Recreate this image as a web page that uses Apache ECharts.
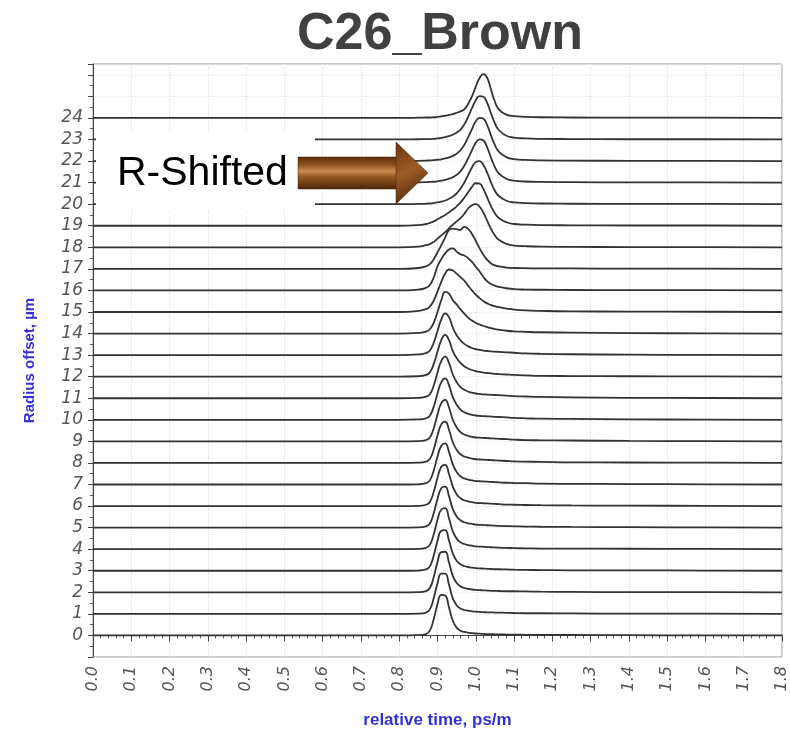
<!DOCTYPE html>
<html lang="en">
<head>
    <meta charset="utf-8"/>
    <title>C26_Brown</title>
    <script src="https://cdn.jsdelivr.net/npm/echarts@6/dist/echarts.min.js"></script>
    <style>
        body { margin: 0; background: #fff; }
        #main { width: 790px; height: 734px; }
    </style>
</head>
<body>
<div id="main"></div>
<script>
    // relative time sample points (ps/m)
    var times = [0.0, 0.80, 0.85, 0.87, 0.88, 0.89, 0.90, 0.91, 0.92, 0.93, 0.94, 0.95, 0.96, 0.97, 0.98, 0.99,
        1.00, 1.01, 1.02, 1.03, 1.04, 1.05, 1.06, 1.08, 1.10, 1.13, 1.17, 1.25, 1.40, 1.60, 1.80];

    // radius offsets (um), one trace each
    var offsets = [0, 1, 2, 3, 4, 5, 6, 7, 8, 9, 10, 11, 12, 13, 14, 15, 16, 17, 18, 19, 20, 21, 22, 23, 24];

    // pulse height above each trace's baseline, read at the sample points
    var trace0 = [0, 0, 0.01, 0.06, 0.22, 0.75, 1.45, 1.88, 1.85, 1.3, 0.68, 0.36, 0.22, 0.16, 0.13, 0.11, 0.09, 0.08, 0.07, 0.06, 0.06, 0.05, 0.05, 0.04, 0.04, 0.03, 0.02, 0.02, 0.01, 0, 0];
    var trace1 = [0, 0, 0.01, 0.06, 0.21, 0.72, 1.42, 1.87, 1.87, 1.35, 0.72, 0.4, 0.25, 0.18, 0.15, 0.12, 0.1, 0.09, 0.08, 0.07, 0.07, 0.06, 0.06, 0.05, 0.04, 0.03, 0.03, 0.02, 0.01, 0.01, 0];
    var trace2 = [0, 0, 0.01, 0.06, 0.2, 0.7, 1.4, 1.86, 1.88, 1.38, 0.76, 0.43, 0.27, 0.2, 0.16, 0.13, 0.11, 0.1, 0.09, 0.08, 0.07, 0.07, 0.06, 0.05, 0.05, 0.04, 0.03, 0.02, 0.01, 0.01, 0];
    var trace3 = [0, 0, 0.01, 0.06, 0.2, 0.7, 1.38, 1.85, 1.88, 1.4, 0.8, 0.46, 0.3, 0.22, 0.17, 0.14, 0.12, 0.11, 0.1, 0.09, 0.08, 0.07, 0.07, 0.06, 0.05, 0.04, 0.03, 0.02, 0.02, 0.01, 0];
    var trace4 = [0, 0, 0.01, 0.06, 0.2, 0.68, 1.36, 1.84, 1.9, 1.43, 0.83, 0.49, 0.32, 0.24, 0.19, 0.16, 0.13, 0.12, 0.11, 0.1, 0.09, 0.08, 0.07, 0.06, 0.05, 0.04, 0.03, 0.03, 0.02, 0.01, 0];
    var trace5 = [0, 0, 0.01, 0.06, 0.19, 0.66, 1.33, 1.83, 1.9, 1.46, 0.86, 0.52, 0.34, 0.25, 0.2, 0.17, 0.14, 0.13, 0.12, 0.11, 0.1, 0.09, 0.08, 0.07, 0.06, 0.05, 0.04, 0.03, 0.02, 0.01, 0];
    var trace6 = [0, 0, 0.01, 0.06, 0.19, 0.65, 1.31, 1.82, 1.91, 1.49, 0.9, 0.55, 0.36, 0.27, 0.22, 0.18, 0.15, 0.14, 0.13, 0.12, 0.11, 0.1, 0.09, 0.07, 0.06, 0.05, 0.04, 0.03, 0.02, 0.01, 0];
    var trace7 = [0, 0, 0.01, 0.06, 0.19, 0.64, 1.3, 1.8, 1.91, 1.51, 0.93, 0.58, 0.38, 0.28, 0.23, 0.19, 0.16, 0.15, 0.14, 0.13, 0.12, 0.11, 0.1, 0.08, 0.07, 0.06, 0.04, 0.03, 0.02, 0.01, 0];
    var trace8 = [0, 0, 0.01, 0.06, 0.18, 0.62, 1.27, 1.79, 1.92, 1.54, 0.96, 0.61, 0.4, 0.3, 0.25, 0.2, 0.17, 0.16, 0.15, 0.14, 0.13, 0.12, 0.11, 0.09, 0.07, 0.06, 0.05, 0.03, 0.02, 0.01, 0];
    var trace9 = [0, 0, 0.01, 0.06, 0.18, 0.6, 1.24, 1.77, 1.92, 1.57, 1.0, 0.65, 0.43, 0.32, 0.26, 0.21, 0.18, 0.17, 0.16, 0.15, 0.14, 0.13, 0.12, 0.1, 0.08, 0.06, 0.05, 0.04, 0.02, 0.01, 0];
    var trace10 = [0, 0, 0.02, 0.07, 0.19, 0.6, 1.22, 1.75, 1.92, 1.6, 1.05, 0.7, 0.47, 0.35, 0.28, 0.23, 0.2, 0.18, 0.17, 0.16, 0.15, 0.14, 0.13, 0.11, 0.09, 0.07, 0.05, 0.04, 0.02, 0.01, 0];
    var trace11 = [0, 0, 0.02, 0.07, 0.19, 0.58, 1.19, 1.73, 1.93, 1.64, 1.1, 0.75, 0.52, 0.39, 0.31, 0.26, 0.22, 0.2, 0.18, 0.17, 0.16, 0.15, 0.14, 0.12, 0.1, 0.08, 0.06, 0.04, 0.02, 0.01, 0];
    var trace12 = [0, 0, 0.02, 0.08, 0.2, 0.58, 1.16, 1.7, 1.94, 1.69, 1.18, 0.86, 0.64, 0.48, 0.38, 0.31, 0.26, 0.22, 0.19, 0.17, 0.15, 0.13, 0.12, 0.1, 0.08, 0.06, 0.04, 0.03, 0.02, 0.01, 0];
    var trace13 = [0, 0, 0.03, 0.09, 0.21, 0.57, 1.12, 1.66, 1.94, 1.76, 1.28, 0.92, 0.69, 0.52, 0.41, 0.33, 0.28, 0.24, 0.21, 0.19, 0.17, 0.16, 0.15, 0.13, 0.11, 0.08, 0.06, 0.04, 0.02, 0.01, 0];
    var trace14 = [0, 0, 0.03, 0.09, 0.2, 0.5, 1.0, 1.55, 1.93, 1.85, 1.55, 1.35, 1.12, 0.92, 0.74, 0.6, 0.5, 0.42, 0.35, 0.3, 0.25, 0.21, 0.18, 0.13, 0.1, 0.08, 0.06, 0.04, 0.02, 0.01, 0];
    var trace15 = [0, 0, 0.05, 0.13, 0.25, 0.52, 0.95, 1.4, 1.78, 1.97, 1.92, 1.78, 1.62, 1.45, 1.22, 1.0, 0.8, 0.64, 0.5, 0.4, 0.32, 0.27, 0.22, 0.16, 0.11, 0.07, 0.05, 0.03, 0.02, 0.01, 0];
    var trace16 = [0, 0, 0.04, 0.12, 0.25, 0.6, 1.12, 1.45, 1.72, 1.9, 1.95, 1.8, 1.68, 1.62, 1.5, 1.32, 1.1, 0.88, 0.62, 0.42, 0.3, 0.22, 0.16, 0.1, 0.06, 0.04, 0.03, 0.02, 0.01, 0.01, 0];
    var trace17 = [0, 0, 0.04, 0.12, 0.22, 0.45, 0.76, 1.1, 1.45, 1.8, 1.87, 1.84, 1.81, 1.95, 1.85, 1.62, 1.3, 0.95, 0.65, 0.42, 0.25, 0.16, 0.11, 0.06, 0.04, 0.03, 0.02, 0.02, 0.01, 0.01, 0];
    var trace18 = [0, 0, 0.03, 0.1, 0.15, 0.25, 0.4, 0.55, 0.7, 0.88, 1.05, 1.2, 1.35, 1.55, 1.8, 1.95, 2.0, 1.88, 1.6, 1.22, 0.85, 0.55, 0.35, 0.16, 0.08, 0.05, 0.03, 0.02, 0.01, 0.01, 0];
    var trace19 = [0, 0, 0.03, 0.08, 0.13, 0.2, 0.3, 0.4, 0.5, 0.62, 0.75, 0.9, 1.08, 1.3, 1.55, 1.8, 1.97, 1.95, 1.7, 1.3, 0.9, 0.58, 0.36, 0.16, 0.08, 0.05, 0.03, 0.02, 0.01, 0.01, 0];
    var trace20 = [0, 0, 0.01, 0.02, 0.03, 0.05, 0.08, 0.12, 0.17, 0.25, 0.35, 0.5, 0.72, 1.0, 1.35, 1.7, 1.95, 2.0, 1.82, 1.45, 1.0, 0.62, 0.38, 0.16, 0.08, 0.05, 0.03, 0.02, 0.01, 0.01, 0];
    var trace21 = [0, 0, 0.01, 0.02, 0.03, 0.04, 0.06, 0.09, 0.13, 0.18, 0.25, 0.36, 0.52, 0.78, 1.12, 1.5, 1.85, 2.0, 1.95, 1.62, 1.15, 0.72, 0.43, 0.18, 0.09, 0.05, 0.03, 0.02, 0.01, 0.01, 0];
    var trace22 = [0, 0, 0.01, 0.02, 0.03, 0.04, 0.06, 0.08, 0.12, 0.17, 0.24, 0.34, 0.5, 0.75, 1.1, 1.48, 1.84, 2.0, 1.96, 1.65, 1.18, 0.74, 0.44, 0.18, 0.09, 0.05, 0.03, 0.02, 0.01, 0.01, 0];
    var trace23 = [0, 0, 0.01, 0.02, 0.02, 0.03, 0.05, 0.07, 0.11, 0.16, 0.22, 0.32, 0.46, 0.7, 1.05, 1.45, 1.82, 2.01, 1.98, 1.68, 1.2, 0.75, 0.44, 0.17, 0.09, 0.05, 0.03, 0.02, 0.01, 0.01, 0];
    var trace24 = [0, 0, 0.01, 0.02, 0.02, 0.03, 0.05, 0.07, 0.1, 0.14, 0.18, 0.24, 0.3, 0.4, 0.65, 1.0, 1.45, 1.85, 2.03, 1.85, 1.3, 0.75, 0.4, 0.15, 0.08, 0.05, 0.03, 0.02, 0.01, 0.01, 0];

    var traces = [trace0, trace1, trace2, trace3, trace4, trace5, trace6, trace7, trace8, trace9,
        trace10, trace11, trace12, trace13, trace14, trace15, trace16, trace17, trace18, trace19,
        trace20, trace21, trace22, trace23, trace24];

    var xTickLabels = ['0.0', '0.1', '0.2', '0.3', '0.4', '0.5', '0.6', '0.7', '0.8', '0.9',
        '1.0', '1.1', '1.2', '1.3', '1.4', '1.5', '1.6', '1.7', '1.8'];

    var series = [];
    for (var k = 0; k < offsets.length; k++) {
        var data = [];
        for (var i = 0; i < times.length; i++) {
            data.push([times[i], offsets[k] + traces[k][i]]);
        }
        series.push({
            type: 'line',
            name: 'r' + offsets[k],
            data: data,
            showSymbol: false,
            smooth: 0.5,
            lineStyle: {color: '#333', width: 1.8},
            z: 2
        });
    }

    var narrow = '"Liberation Sans Narrow", "Liberation Sans", Arial, sans-serif';
    var tickFont = '"DejaVu Sans", "Liberation Sans", sans-serif';
    var myChart = echarts.init(document.getElementById('main'));

    var option = {
        animation: false,
        backgroundColor: '#fff',
        title: {
            text: 'C26_Brown',
            left: 292,
            top: 4,
            textStyle: {
                fontFamily: '"Liberation Sans", Arial, sans-serif',
                fontSize: 52,
                fontWeight: 'bold',
                color: '#404040'
            }
        },
        grid: {
            left: 93, right: 5, top: 64, bottom: 77,
            show: true, borderColor: '#999', borderWidth: 1
        },
        xAxis: {
            type: 'value',
            min: 0,
            max: 1.8,
            interval: 0.1,
            name: 'relative time, ps/m',
            nameLocation: 'middle',
            nameGap: 55,
            nameTextStyle: {color: '#3232d2', fontWeight: 'bold', fontSize: 17, fontFamily: narrow},
            axisLine: {lineStyle: {color: '#444', width: 1}},
            axisTick: {length: 6, lineStyle: {color: '#444'}},
            minorTick: {show: true, splitNumber: 5, length: 3, lineStyle: {color: '#555'}},
            axisLabel: {
                rotate: 90,
                margin: 9,
                fontSize: 16,
                fontStyle: 'italic',
                color: '#555',
                fontFamily: tickFont,
                formatter: function (v) {
                    return xTickLabels[Math.round(v * 10)] || '';
                }
            },
            splitLine: {show: true, lineStyle: {color: '#cfe4e4', type: 'dotted', width: 1}}
        },
        yAxis: {
            type: 'value',
            min: -1,
            max: 26.5,
            interval: 1,
            name: 'Radius offset, µm',
            nameLocation: 'middle',
            nameGap: 56,
            nameTextStyle: {color: '#3232d2', fontWeight: 'bold', fontSize: 15, fontFamily: narrow},
            axisLine: {lineStyle: {color: '#444', width: 1}},
            axisTick: {length: 5, lineStyle: {color: '#444'}},
            minorTick: {show: true, splitNumber: 2, length: 3, lineStyle: {color: '#555'}},
            axisLabel: {
                margin: 10,
                fontSize: 17,
                fontStyle: 'italic',
                color: '#555',
                fontFamily: tickFont,
                formatter: function (v) {
                    return (v >= offsets[0] && v <= offsets[offsets.length - 1]) ? String(v) : '';
                }
            },
            splitLine: {show: true, lineStyle: {color: '#d6eaea', type: 'dotted', width: 1}}
        },
        graphic: [
            // white label box over the left part of traces 20-23
            {type: 'rect', z: 10, shape: {x: 96, y: 131, width: 219, height: 78}, style: {fill: '#fff'}},
            {
                type: 'text', z: 11, x: 117, y: 174,
                style: {
                    text: 'R-Shifted', fill: '#000', font: '41px "Liberation Sans", Arial, sans-serif',
                    verticalAlign: 'middle'
                }
            },
            // arrow shaft
            {
                type: 'rect', z: 11, shape: {x: 298, y: 157, width: 99, height: 32},
                style: {
                    fill: new echarts.graphic.LinearGradient(0, 0, 0, 1, [
                        {offset: 0, color: '#5a2c0a'},
                        {offset: 0.25, color: '#8f5220'},
                        {offset: 0.45, color: '#c98d52'},
                        {offset: 0.6, color: '#9a5a24'},
                        {offset: 1, color: '#4e2507'}
                    ]),
                    stroke: '#4a2306', lineWidth: 0.5
                }
            },
            // arrow head
            {
                type: 'polygon', z: 12, shape: {points: [[396, 142], [428, 173], [396, 204]]},
                style: {
                    fill: new echarts.graphic.LinearGradient(0, 0, 1, 1, [
                        {offset: 0, color: '#6a3510'},
                        {offset: 0.45, color: '#9c5b25'},
                        {offset: 1, color: '#3e1c04'}
                    ]),
                    stroke: '#3e1c04', lineWidth: 0.5
                }
            }
        ],
        series: series
    };

    myChart.setOption(option);
</script>
</body>
</html>
